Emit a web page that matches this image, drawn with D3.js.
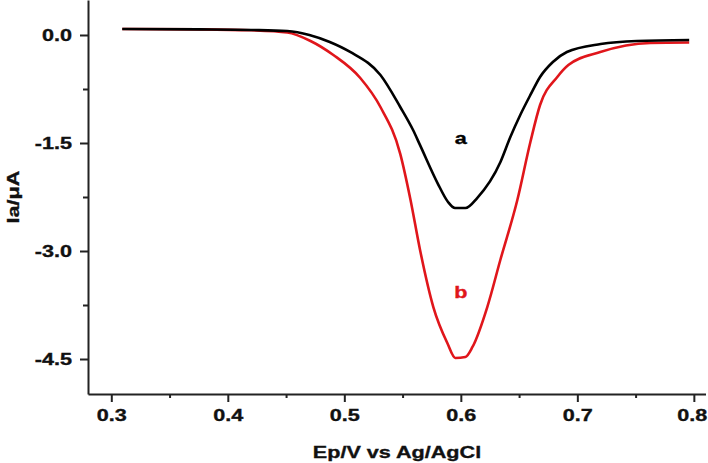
<!DOCTYPE html>
<html>
<head>
<meta charset="utf-8">
<script src="https://cdn.jsdelivr.net/npm/d3@7"></script>
<style>
  html, body { margin: 0; padding: 0; background: #fff; }
  svg text { font-family: "Liberation Sans", Arial, sans-serif; font-weight: bold; }
</style>
</head>
<body>
<svg id="chart" width="708" height="463"></svg>
<script>
// ---- data ----
const potentialA = [0.3094, 0.376, 0.42, 0.451, 0.47, 0.4875, 0.505, 0.531, 0.548, 0.559, 0.565, 0.580, 0.589, 0.595, 0.604, 0.614, 0.634, 0.6425, 0.651, 0.6597, 0.668, 0.679, 0.691, 0.720, 0.751, 0.796];
const currentA   = [0.083, 0.078, 0.07, 0.055, 0.0, -0.097, -0.236, -0.556, -1.0, -1.32, -1.53, -2.056, -2.319, -2.403, -2.403, -2.264, -1.764, -1.417, -1.111, -0.833, -0.583, -0.375, -0.236, -0.125, -0.083, -0.07];
const potentialB = [0.3094, 0.376, 0.42, 0.451, 0.471, 0.4906, 0.5137, 0.531, 0.548, 0.5567, 0.565, 0.5764, 0.5884, 0.5953, 0.6039, 0.610, 0.6227, 0.6339, 0.6485, 0.6597, 0.668, 0.6828, 0.6923, 0.7197, 0.7627, 0.796];
const currentB   = [0.083, 0.078, 0.065, 0.035, -0.083, -0.278, -0.597, -1.0, -1.65, -2.28, -2.986, -3.778, -4.278, -4.486, -4.472, -4.333, -3.778, -3.125, -2.292, -1.486, -0.972, -0.583, -0.417, -0.236, -0.111, -0.104];
const xMajorTicks = [0.3, 0.4, 0.5, 0.6, 0.7, 0.8];
const xMinorTicks = [0.35, 0.45, 0.55, 0.65, 0.75];
const yMajorTicks = [0.0, -1.5, -3.0, -4.5];
const yMinorTicks = [-0.75, -2.25, -3.75];
const seriesLabels = [
  { text: "a", x: 0.600, y: -1.43, color: "#000000" },
  { text: "b", x: 0.600, y: -3.57, color: "#e0161b" }
];
const xTitle = "Ep/V vs Ag/AgCl";
const yTitle = "Ia/\u03BCA";

// ---- layout ----
const svg = d3.select("#chart");
const x = d3.scaleLinear().domain([0.28, 0.81]).range([88, 705.5]);
const y = d3.scaleLinear().domain([-4.986, 0.486]).range([394, 0]);
const axisColor = "#222";
const SX = 1.27; // horizontal stretch of text
const fmt = d => d3.format(".1f")(d).replace("\u2212", "-");

// minor ticks
svg.append("g").attr("transform", "translate(0,394)")
  .call(d3.axisBottom(x).tickValues(xMinorTicks).tickSize(4).tickFormat(""))
  .call(g => g.select(".domain").remove());
svg.append("g").attr("transform", "translate(88,0)")
  .call(d3.axisLeft(y).tickValues(yMinorTicks).tickSize(5).tickFormat(""))
  .call(g => g.select(".domain").remove());

// major x axis
const gx = svg.append("g").attr("transform", "translate(0,394)")
  .call(d3.axisBottom(x).tickValues(xMajorTicks).tickSize(8).tickSizeOuter(0).tickFormat(fmt));
gx.selectAll("text")
  .attr("y", 0).attr("dy", 0)
  .attr("transform", (d, i) => `translate(${d === 0.8 ? -2 : 0},27) scale(${SX},1)`)
  .style("font-size", "17px").attr("fill", "#111")
  .attr("stroke", "#111").attr("stroke-width", 0.35);

// major y axis
const gy = svg.append("g").attr("transform", "translate(88,0)")
  .call(d3.axisLeft(y).tickValues(yMajorTicks).tickSize(8).tickSizeOuter(0).tickFormat(fmt));
gy.selectAll("text")
  .attr("x", 0).attr("dy", "0.35em")
  .attr("transform", `translate(-16,0) scale(${SX},1)`)
  .style("font-size", "17px").attr("fill", "#111")
  .attr("stroke", "#111").attr("stroke-width", 0.35);

svg.selectAll(".domain, .tick line").attr("stroke", axisColor).attr("stroke-width", 2);

// curves
const line = d3.line().x(d => x(d[0])).y(d => y(d[1])).curve(d3.curveMonotoneX);
const dataA = potentialA.map((v, i) => [v, currentA[i]]);
const dataB = potentialB.map((v, i) => [v, currentB[i]]);
svg.append("path").datum(dataB).attr("d", line)
  .attr("fill", "none").attr("stroke", "#e0161b").attr("stroke-width", 2.6).attr("stroke-linejoin", "round");
svg.append("path").datum(dataA).attr("d", line)
  .attr("fill", "none").attr("stroke", "#000").attr("stroke-width", 2.6).attr("stroke-linejoin", "round");

// series labels
seriesLabels.forEach(l => {
  svg.append("text")
    .attr("transform", `translate(${x(l.x)},${y(l.y)}) scale(${SX},1)`)
    .attr("text-anchor", "middle").attr("dy", "0.35em")
    .style("font-size", "17px").attr("fill", l.color)
    .attr("stroke", l.color).attr("stroke-width", 0.35).text(l.text);
});

// axis titles
svg.append("text")
  .attr("transform", `translate(397,458) scale(${SX},1)`)
  .attr("text-anchor", "middle").style("font-size", "17px").attr("fill", "#111")
  .attr("stroke", "#111").attr("stroke-width", 0.35).text(xTitle);
svg.append("text")
  .attr("transform", `translate(19,197) rotate(-90) scale(${SX},1)`)
  .attr("text-anchor", "middle").style("font-size", "17px").attr("fill", "#111")
  .attr("stroke", "#111").attr("stroke-width", 0.35).text(yTitle);
</script>
</body>
</html>
